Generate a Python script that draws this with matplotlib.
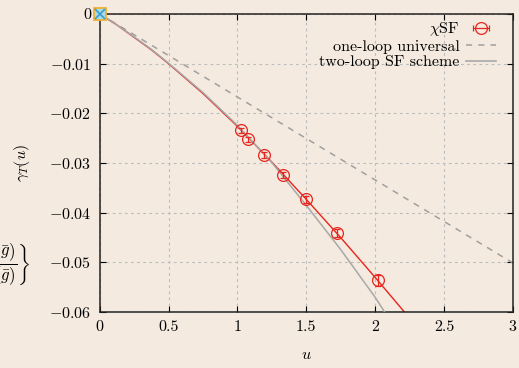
import numpy as np
import matplotlib
matplotlib.use('Agg')
import matplotlib.pyplot as plt

plt.rcParams['font.family'] = 'serif'
plt.rcParams['font.serif'] = ['cmr10']
plt.rcParams['mathtext.fontset'] = 'cm'
plt.rcParams['axes.formatter.use_mathtext'] = True
plt.rcParams['axes.unicode_minus'] = True

# chi-SF data points
u_data = [1.028, 1.080, 1.197, 1.331, 1.495, 1.720, 2.020]
g_data = [-0.02336, -0.02523, -0.02840, -0.03242, -0.03731, -0.04403, -0.05356]
g_err = [0.0005, 0.0005, 0.0006, 0.0006, 0.0007, 0.0008, 0.0011]

# curves
u_fit = [0, 0.125, 0.25, 0.375, 0.5, 0.75, 1.0, 1.25, 1.5, 1.75, 2.0, 2.25]
g_fit = [0, -0.0022, -0.0047, -0.0072, -0.0100, -0.0160, -0.0226, -0.0298, -0.0373, -0.0450, -0.0530, -0.0612]
u_one = [0, 1, 2, 3]
g_one = [0, -0.0167, -0.0334, -0.0501]
u_two = [0, 0.125, 0.25, 0.375, 0.5, 0.75, 1.0, 1.25, 1.5, 1.75, 2.0, 2.1]
g_two = [0, -0.0022, -0.0046, -0.0071, -0.0099, -0.0158, -0.0224, -0.0299, -0.0385, -0.0474, -0.0570, -0.0613]

bg = '#f4eadf'
red = '#e8241c'
fig = plt.figure(figsize=(5.19, 3.68), dpi=100, facecolor=bg)
ax = fig.add_axes([0.192, 0.152, 0.796, 0.810], facecolor=bg)

ax.grid(True, color='#bcbcbc', linestyle=(0, (2.5, 3)), linewidth=0.8)
ax.set_axisbelow(True)

ax.plot(u_one, g_one, color='#a0a0a0', linestyle=(0, (4, 4)), lw=1.1)
ax.plot(u_fit, g_fit, color=red, lw=1.0, zorder=2)
ax.plot(u_two, g_two, color='#a8a8a8', lw=1.1, zorder=3)
ax.errorbar(u_data, g_data, yerr=g_err, fmt='o', mfc='none', mec=red, ms=8.5,
            mew=0.9, ecolor=red, elinewidth=0.9, capsize=2.5, capthick=0.9, zorder=4)
ax.plot([0], [0], marker='s', ms=8, mfc='#a8daea', mec='#f0b030', mew=1.3, clip_on=False, zorder=5)
ax.plot([0], [0], marker='x', ms=7, mec='#3a9fd0', mew=1.2, clip_on=False, zorder=6)

# legend proxies (drawn outside the visible range)
h1 = ax.errorbar([10], [10], xerr=[0.1], fmt='o', mfc='none', mec=red, ms=8.5, mew=0.9,
                 ecolor=red, elinewidth=0.9, capsize=2.5, capthick=0.9)
h2, = ax.plot([], [], color='#a0a0a0', linestyle=(0, (4, 4)), lw=1.1)
h3, = ax.plot([], [], color='#a8a8a8', lw=1.2)
leg = ax.legend([h1, h2, h3], [r'$\chi$SF', 'one-loop universal', 'two-loop SF scheme'],
                loc='upper right', bbox_to_anchor=(0.975, 1.0), frameon=False, markerfirst=False,
                fontsize=11.5, handlelength=1.9, handletextpad=0.4, labelspacing=0.08,
                borderaxespad=0.0)

ax.set_xlim(0, 3)
ax.set_ylim(-0.06, 0)
ax.set_xticks([0, 0.5, 1, 1.5, 2, 2.5, 3])
ax.set_xticklabels(['0', '0.5', '1', '1.5', '2', '2.5', '3'])
ax.set_yticks([0, -0.01, -0.02, -0.03, -0.04, -0.05, -0.06])
ax.set_yticklabels(['0', '$-0.01$', '$-0.02$', '$-0.03$', '$-0.04$', '$-0.05$', '$-0.06$'])
ax.tick_params(direction='in', length=4, width=0.8, labelsize=11.5, top=True, right=True, pad=6)
for s in ax.spines.values():
    s.set_linewidth(1.1)
    s.set_color('#222222')

ax.set_xlabel('$u$', fontsize=11.5, labelpad=10)
ax.set_ylabel(r'$\gamma_T(u)$', fontsize=11.5, labelpad=12)

fig.text(30 / 519, 1 - 264 / 368, r'$\left.\dfrac{\gamma(\bar{g})}{\beta(\bar{g})}\right\}$',
         ha='right', va='center', fontsize=12)

fig.savefig('out.png', dpi=100, facecolor=bg)
